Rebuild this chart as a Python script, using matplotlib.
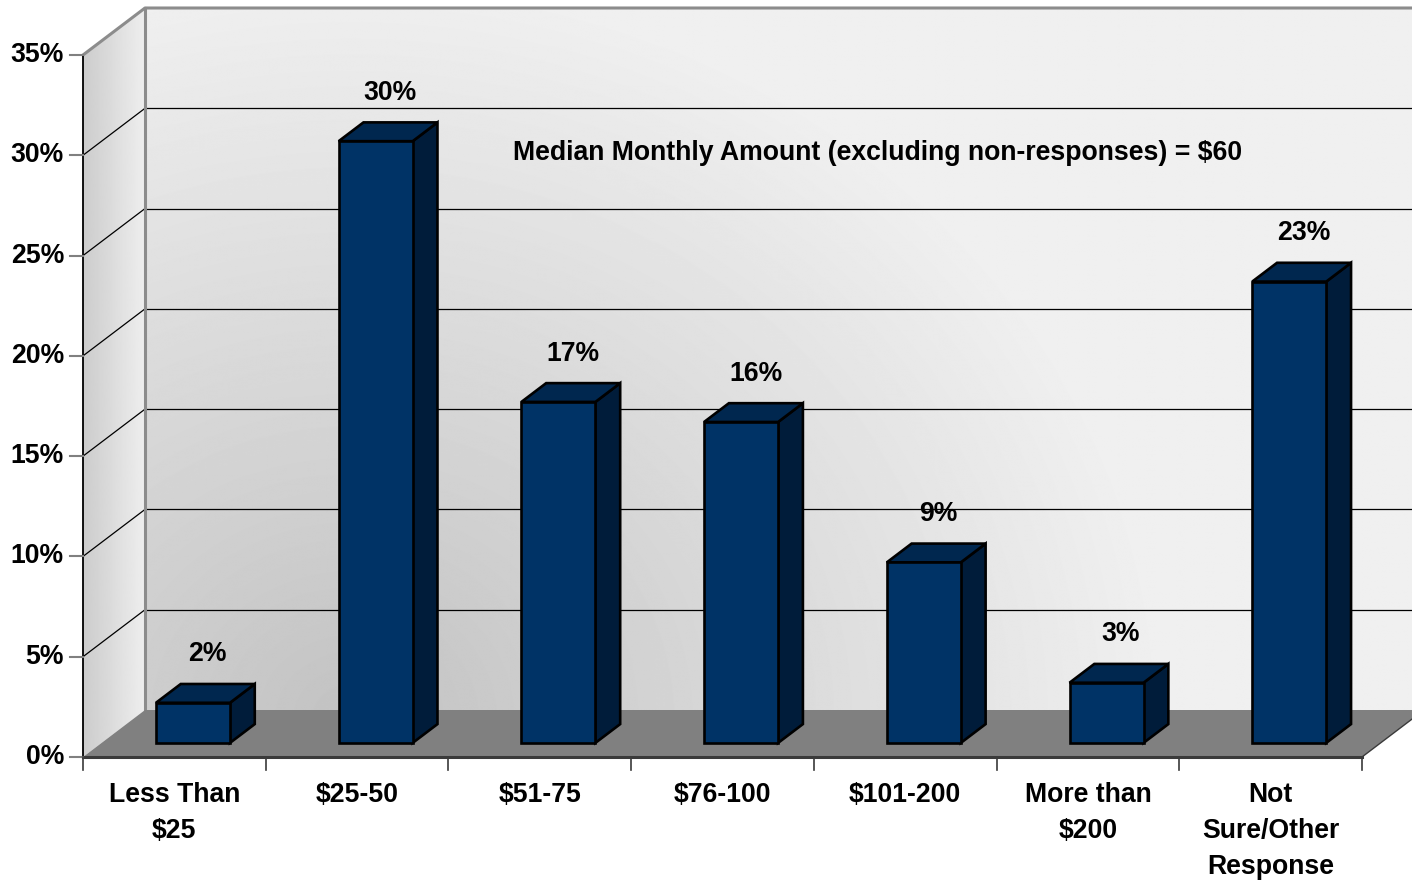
import matplotlib.pyplot as plt
from matplotlib.patches import Polygon
import numpy as np

categories = ["Less Than\n$25", "$25-50", "$51-75", "$76-100", "$101-200",
              "More than\n$200", "Not\nSure/Other\nResponse"]
values = [2, 30, 17, 16, 9, 3, 23]
yticks = [0, 5, 10, 15, 20, 25, 30, 35]
note = "Median Monthly Amount (excluding non-responses) = $60"

plt.rcParams['font.family'] = ['Liberation Sans', 'DejaVu Sans']
plt.rcParams['font.weight'] = 'bold'
FS = 19.2

# pixel scale of the front plane
PXC = (1362 - 83) / 7.0      # pixels per category
PXP = (757 - 55) / 35.0      # pixels per percent
DX = 62 / PXC                # depth shift in category units
DY = 47 / PXP                # depth shift in percent units
YMAX = 35


def P(x, v, d):
    return (x + d * DX, v + d * DY)


fig = plt.figure(figsize=(14.12, 8.8), dpi=100)
ax = fig.add_axes([0, 0, 1, 1])
ax.set_xlim(-83 / PXC, (1412 - 83) / PXC)
ax.set_ylim((757 - 880) / PXP, 757 / PXP)
ax.axis('off')

# back wall with radial shading
h, w = 720, 1300
jj, ii = np.meshgrid(np.arange(w), np.arange(h))
px = 145 + jj * (1279.0 / w)
py = 8 + ii * (702.0 / h)
r = np.hypot(px - 350, (py - 720) * 1.1)
shade = (194 + 46 * np.clip(r / 820, 0, 1)) / 255.0
x0, y0 = P(0, 0, 1)
x1, y1 = P(len(values), YMAX, 1)
ax.imshow(shade, cmap='gray', vmin=0, vmax=1, extent=[x0, x1, y0, y1],
          origin='upper', aspect='auto', interpolation='bilinear', zorder=0)

# left side wall
lw_poly = Polygon([P(0, 0, 0), P(0, YMAX, 0), P(0, YMAX, 1), P(0, 0, 1)],
                  closed=True, facecolor='none', edgecolor='none')
ax.add_patch(lw_poly)
grad = np.linspace(204, 238, 64)[None, :] / 255.0
im = ax.imshow(grad, cmap='gray', vmin=0, vmax=1,
               extent=[0, DX, 0, YMAX + DY], aspect='auto',
               interpolation='bilinear', zorder=0.5)
im.set_clip_path(lw_poly)

# gridlines
for v in yticks[1:-1]:
    ax.plot([P(0, v, 1)[0], P(7.2, v, 1)[0]], [P(0, v, 1)[1]] * 2,
            color='black', lw=0.9, zorder=1)
    ax.plot([P(0, v, 0)[0], P(0, v, 1)[0]], [P(0, v, 0)[1], P(0, v, 1)[1]],
            color='black', lw=0.9, zorder=1)

# wall edges
ax.plot([P(0, 0, 1)[0], P(0, YMAX, 1)[0]], [P(0, 0, 1)[1], P(0, YMAX, 1)[1]],
        color='#8c8c8c', lw=2.2, zorder=1.2)
ax.plot([P(0, YMAX, 0)[0], P(0, YMAX, 1)[0], P(7.2, YMAX, 1)[0]],
        [P(0, YMAX, 0)[1], P(0, YMAX, 1)[1], P(7.2, YMAX, 1)[1]],
        color='#8c8c8c', lw=2.2, zorder=1.2)

# floor
n = len(values)
floor = Polygon([P(0, 0, 0), P(n, 0, 0), P(n, 0, 1), P(0, 0, 1)],
                closed=True, facecolor='#808080', edgecolor='none', zorder=2)
ax.add_patch(floor)
ax.plot([P(n, 0, 0)[0], P(n, 0, 1.2)[0]], [P(n, 0, 0)[1], P(n, 0, 1.2)[1]],
        color='#3a3a3a', lw=1.0, zorder=2.1)
ax.plot([0, n], [0, 0], color='#3a3a3a', lw=2.2, zorder=2.2)

# y axis
ax.plot([0, 0], [0, YMAX], color='black', lw=1.3, zorder=2.3)
for v in yticks:
    ax.plot([-13 / PXC, 0], [v, v], color='#808080', lw=1.5, zorder=2.3)
    ax.text(-19 / PXC, v, f"{v}%", ha='right', va='center', fontsize=FS,
            fontweight='bold', color='black')

# x ticks and labels
for i in range(n + 1):
    ax.plot([i, i], [0, -13 / PXP], color='#3a3a3a', lw=1.2, zorder=2.3)
for i, lab in enumerate(categories):
    ax.text(i + 0.5, -25 / PXP, lab, ha='center', va='top', fontsize=FS,
            fontweight='bold', linespacing=1.5, parse_math=False)

# bars
hw = 37 / PXC
d0, d1 = 0.3, 0.7
for i, v in enumerate(values):
    xl, xr = i + 0.5 - hw, i + 0.5 + hw
    front = [P(xl, 0, d0), P(xr, 0, d0), P(xr, v, d0), P(xl, v, d0)]
    side = [P(xr, 0, d0), P(xr, 0, d1), P(xr, v, d1), P(xr, v, d0)]
    top = [P(xl, v, d0), P(xr, v, d0), P(xr, v, d1), P(xl, v, d1)]
    for poly, col in ((side, '#001c3a'), (top, '#00274f'), (front, '#003366')):
        ax.add_patch(Polygon(poly, closed=True, facecolor=col,
                             edgecolor='black', lw=1.9, joinstyle='miter',
                             zorder=3 + i * 0.01))
    tx, ty = P(i + 0.5, v, 0.5)
    ax.annotate(f"{v}%", (tx, ty), xytext=(1.5, 28), textcoords='offset points',
                ha='center', va='center', fontsize=FS, fontweight='bold',
                zorder=5)

ax.text((878 - 83) / PXC, (757 - 153) / PXP, note, ha='center', va='center',
        fontsize=FS, fontweight='bold', parse_math=False, zorder=5)

fig.savefig('out.png', dpi=100)
